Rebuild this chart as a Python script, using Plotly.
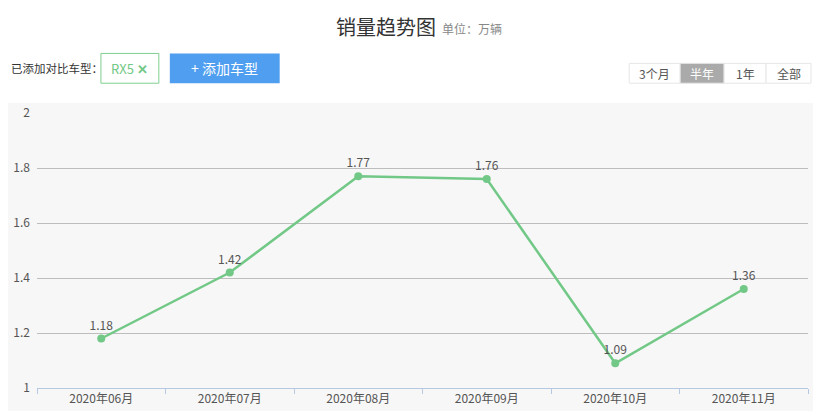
import plotly.graph_objects as go

months = ["2020年06月", "2020年07月", "2020年08月", "2020年09月", "2020年10月", "2020年11月"]
sales = [1.18, 1.42, 1.77, 1.76, 1.09, 1.36]
y_ticks = [1, 1.2, 1.4, 1.6, 1.8, 2]
range_buttons = ["3个月", "半年", "1年", "全部"]

# the page body keeps its 8px margin, so size the figure to leave room for it
OFF = 8
SW, SH = 821, 419
W, H = SW - 2 * OFF, SH - 2 * OFF
ML, MR, MT, MB = 36 - OFF, (SW - OFF) - 808, 113 - OFF, (SH - OFF) - 390
PW, PH = W - ML - MR, H - MT - MB
FONT = "Noto Sans CJK SC"


# screen pixel -> paper coords
def px(x):
    return (x - OFF - ML) / PW


def py(y):
    return (H - MB - (y - OFF)) / PH


fig = go.Figure()
fig.add_trace(go.Scatter(
    x=months, y=sales, mode="lines+markers+text",
    text=[f"{v:.2f}" for v in sales], textposition="top center",
    textfont=dict(color="#555", size=12, family=FONT),
    line=dict(color="#72c886", width=2.5),
    marker=dict(color="#72c886", size=8),
    hoverinfo="x+y", showlegend=False, cliponaxis=False,
))


def label(text, x, y, size=12, color="#555", xanchor="center"):
    return dict(text=text, x=px(x), y=py(y), xref="paper", yref="paper", showarrow=False,
                xanchor=xanchor, yanchor="middle", font=dict(size=size, color=color, family=FONT))


def box(x0, x1, y0, y1, fill, line_color=None, layer="below"):
    return dict(type="rect", xref="paper", yref="paper", x0=px(x0), x1=px(x1), y0=py(y1), y1=py(y0),
                fillcolor=fill, layer=layer,
                line=dict(color=line_color, width=1) if line_color else dict(width=0))


shapes = [
    box(0, 819, 103, 430, "#f7f7f7"),           # grey panel behind the plot
    box(100, 158, 53, 83, "white", "#7fcf8f"),  # RX5 tag
    box(169, 279, 53, 83, "#509ef0"),           # add button
]

annotations = [
    label("销量趋势图", 385, 26, size=20, color="#333"),
    label("单位：万辆", 440, 28, size=12, color="#888", xanchor="left"),
    label("已添加对比车型：", 8, 68, size=11.5, color="#333", xanchor="left"),
    label("RX5 <b>✕</b>", 129, 68, size=13, color="#72c886"),
    label("+ 添加车型", 224, 68, size=14, color="white"),
]

btn_edges = [629, 680, 724, 766, 811]
for i, name in enumerate(range_buttons):
    active = name == "半年"
    shapes.append(box(btn_edges[i], btn_edges[i + 1], 63, 83,
                      "#aaaaaa" if active else "white", "#e6e6e6"))
    annotations.append(label(name, (btn_edges[i] + btn_edges[i + 1]) / 2, 73,
                             color="white" if active else "#555"))

fig.update_layout(
    width=W, height=H,
    margin=dict(l=ML, r=MR, t=MT, b=MB),
    paper_bgcolor="white", plot_bgcolor="rgba(0,0,0,0)",
    font=dict(family=FONT, size=12, color="#555"),
    shapes=shapes, annotations=annotations,
    xaxis=dict(type="category", range=[-0.5, 5.5], showgrid=False, tickson="boundaries",
               ticks="outside", ticklen=5, tickcolor="#b7c9e2", showline=True, linecolor="#b7c9e2",
               linewidth=1, tickfont=dict(size=12, color="#555"), fixedrange=True),
    yaxis=dict(range=[1, 2], tickvals=y_ticks, ticktext=[f"{v:g}" for v in y_ticks],
               showgrid=True, gridcolor="#bdbdbd", gridwidth=1, zeroline=False,
               tickfont=dict(size=12, color="#555"), ticklabelstandoff=6, fixedrange=True),
)

fig.write_html("out.html")
